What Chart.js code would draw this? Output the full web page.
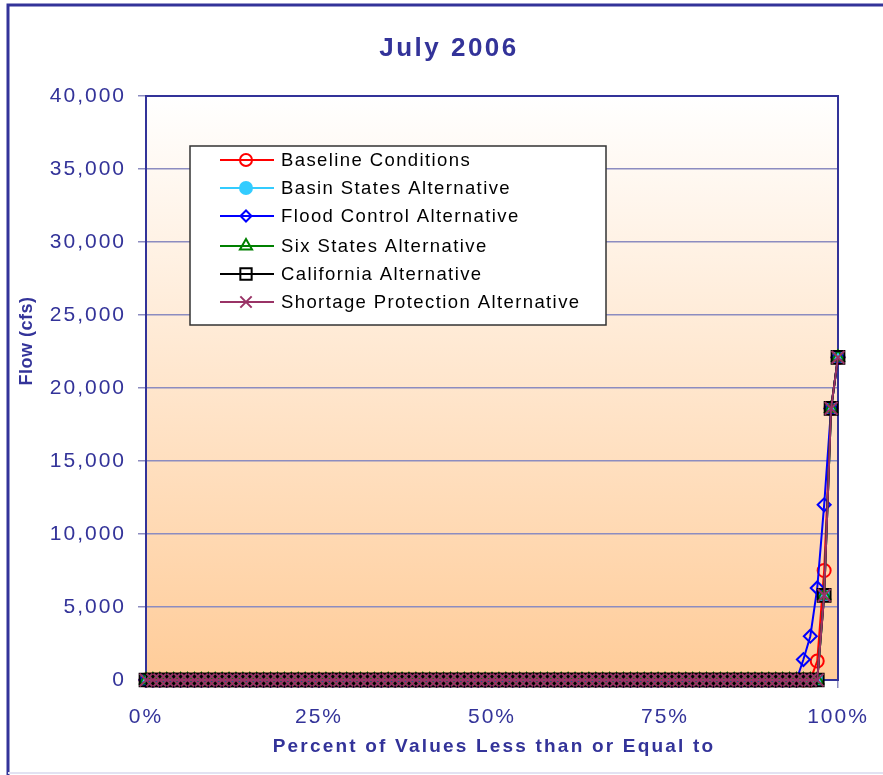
<!DOCTYPE html>
<html>
<head>
<meta charset="utf-8">
<title>July 2006</title>
<script src="https://cdn.jsdelivr.net/npm/chart.js@4.4.0/dist/chart.umd.min.js"></script>
<style>
    html, body { margin: 0; padding: 0; background: #ffffff; }
    #wrap { width: 883px; height: 775px; position: relative; }
</style>
</head>
<body>
<div id="wrap"><canvas id="flowChart" width="883" height="775"></canvas></div>
<script>
// Exceedance positions (percent of values less than or equal to)
const percentPoints = [
    0, 1, 2, 3, 4, 5, 6, 7, 8, 9,
    10, 11, 12, 13, 14, 15, 16, 17, 18, 19,
    20, 21, 22, 23, 24, 25, 26, 27, 28, 29,
    30, 31, 32, 33, 34, 35, 36, 37, 38, 39,
    40, 41, 42, 43, 44, 45, 46, 47, 48, 49,
    50, 51, 52, 53, 54, 55, 56, 57, 58, 59,
    60, 61, 62, 63, 64, 65, 66, 67, 68, 69,
    70, 71, 72, 73, 74, 75, 76, 77, 78, 79,
    80, 81, 82, 83, 84, 85, 86, 87, 88, 89,
    90, 91, 92, 93, 94, 95, 96, 97, 98, 99,
    100
];

// Flow (cfs) per series
const baselineFlow = [
    0, 0, 0, 0, 0, 0, 0, 0, 0, 0,
    0, 0, 0, 0, 0, 0, 0, 0, 0, 0,
    0, 0, 0, 0, 0, 0, 0, 0, 0, 0,
    0, 0, 0, 0, 0, 0, 0, 0, 0, 0,
    0, 0, 0, 0, 0, 0, 0, 0, 0, 0,
    0, 0, 0, 0, 0, 0, 0, 0, 0, 0,
    0, 0, 0, 0, 0, 0, 0, 0, 0, 0,
    0, 0, 0, 0, 0, 0, 0, 0, 0, 0,
    0, 0, 0, 0, 0, 0, 0, 0, 0, 0,
    0, 0, 0, 0, 0, 0, 0, 1300, 7500, 18600,
    22100
];
const basinStatesFlow = [
    0, 0, 0, 0, 0, 0, 0, 0, 0, 0,
    0, 0, 0, 0, 0, 0, 0, 0, 0, 0,
    0, 0, 0, 0, 0, 0, 0, 0, 0, 0,
    0, 0, 0, 0, 0, 0, 0, 0, 0, 0,
    0, 0, 0, 0, 0, 0, 0, 0, 0, 0,
    0, 0, 0, 0, 0, 0, 0, 0, 0, 0,
    0, 0, 0, 0, 0, 0, 0, 0, 0, 0,
    0, 0, 0, 0, 0, 0, 0, 0, 0, 0,
    0, 0, 0, 0, 0, 0, 0, 0, 0, 0,
    0, 0, 0, 0, 0, 0, 0, 0, 5800, 18600,
    22100
];
const floodControlFlow = [
    0, 0, 0, 0, 0, 0, 0, 0, 0, 0,
    0, 0, 0, 0, 0, 0, 0, 0, 0, 0,
    0, 0, 0, 0, 0, 0, 0, 0, 0, 0,
    0, 0, 0, 0, 0, 0, 0, 0, 0, 0,
    0, 0, 0, 0, 0, 0, 0, 0, 0, 0,
    0, 0, 0, 0, 0, 0, 0, 0, 0, 0,
    0, 0, 0, 0, 0, 0, 0, 0, 0, 0,
    0, 0, 0, 0, 0, 0, 0, 0, 0, 0,
    0, 0, 0, 0, 0, 0, 0, 0, 0, 0,
    0, 0, 0, 0, 0, 1400, 3000, 6300, 12000, 18600,
    22100
];
const sixStatesFlow = [
    0, 0, 0, 0, 0, 0, 0, 0, 0, 0,
    0, 0, 0, 0, 0, 0, 0, 0, 0, 0,
    0, 0, 0, 0, 0, 0, 0, 0, 0, 0,
    0, 0, 0, 0, 0, 0, 0, 0, 0, 0,
    0, 0, 0, 0, 0, 0, 0, 0, 0, 0,
    0, 0, 0, 0, 0, 0, 0, 0, 0, 0,
    0, 0, 0, 0, 0, 0, 0, 0, 0, 0,
    0, 0, 0, 0, 0, 0, 0, 0, 0, 0,
    0, 0, 0, 0, 0, 0, 0, 0, 0, 0,
    0, 0, 0, 0, 0, 0, 0, 0, 5800, 18600,
    22100
];
const californiaFlow = [
    0, 0, 0, 0, 0, 0, 0, 0, 0, 0,
    0, 0, 0, 0, 0, 0, 0, 0, 0, 0,
    0, 0, 0, 0, 0, 0, 0, 0, 0, 0,
    0, 0, 0, 0, 0, 0, 0, 0, 0, 0,
    0, 0, 0, 0, 0, 0, 0, 0, 0, 0,
    0, 0, 0, 0, 0, 0, 0, 0, 0, 0,
    0, 0, 0, 0, 0, 0, 0, 0, 0, 0,
    0, 0, 0, 0, 0, 0, 0, 0, 0, 0,
    0, 0, 0, 0, 0, 0, 0, 0, 0, 0,
    0, 0, 0, 0, 0, 0, 0, 0, 5800, 18600,
    22100
];
const shortageProtectionFlow = [
    0, 0, 0, 0, 0, 0, 0, 0, 0, 0,
    0, 0, 0, 0, 0, 0, 0, 0, 0, 0,
    0, 0, 0, 0, 0, 0, 0, 0, 0, 0,
    0, 0, 0, 0, 0, 0, 0, 0, 0, 0,
    0, 0, 0, 0, 0, 0, 0, 0, 0, 0,
    0, 0, 0, 0, 0, 0, 0, 0, 0, 0,
    0, 0, 0, 0, 0, 0, 0, 0, 0, 0,
    0, 0, 0, 0, 0, 0, 0, 0, 0, 0,
    0, 0, 0, 0, 0, 0, 0, 0, 0, 0,
    0, 0, 0, 0, 0, 0, 0, 0, 5800, 18600,
    22100
];

const seriesNames = [
    'Baseline Conditions',
    'Basin States Alternative',
    'Flood Control Alternative',
    'Six States Alternative',
    'California Alternative',
    'Shortage Protection Alternative'
];

const xTickValues = [0, 25, 50, 75, 100];
const yTickValues = [0, 5000, 10000, 15000, 20000, 25000, 30000, 35000, 40000];

const chartTitle = 'July 2006';
const xAxisTitle = 'Percent of Values Less than or Equal to';
const yAxisTitle = 'Flow (cfs)';

const NAVY = '#333399';
const GRID = '#8c8cc0';
const FONT = "'Liberation Sans', Arial, sans-serif";

// Excel-like spacing for tick labels
const spacingPlugin = {
    id: 'spacing',
    beforeDraw(chart) {
        chart.ctx.letterSpacing = '2px';
    }
};

// Plot background gradient: white at top, peach at bottom
const plotBackground = {
    id: 'plotBackground',
    beforeDraw(chart) {
        const { ctx, chartArea: a } = chart;
        ctx.save();
        const g = ctx.createLinearGradient(0, a.top, 0, a.bottom);
        g.addColorStop(0, '#ffffff');
        g.addColorStop(1, '#ffcc99');
        ctx.fillStyle = g;
        ctx.fillRect(a.left, a.top, a.right - a.left, a.bottom - a.top);
        ctx.restore();
    },
    beforeDatasetsDraw(chart) {
        const { ctx, chartArea: a } = chart;
        ctx.save();
        ctx.strokeStyle = NAVY;
        ctx.lineWidth = 2;
        ctx.strokeRect(a.left, a.top, a.right - a.left, a.bottom - a.top);
        ctx.restore();
    }
};

// Titles, outer frame and the boxed legend
const decorations = {
    id: 'decorations',
    afterDraw(chart) {
        const ctx = chart.ctx;
        ctx.save();

        // outer frame
        ctx.strokeStyle = NAVY;
        ctx.lineWidth = 3;
        ctx.beginPath();
        ctx.moveTo(8, 775);
        ctx.lineTo(8, 5);
        ctx.lineTo(883, 5);
        ctx.stroke();
        ctx.strokeStyle = '#e2e2f2';
        ctx.lineWidth = 2;
        ctx.beginPath();
        ctx.moveTo(8, 773);
        ctx.lineTo(883, 773);
        ctx.stroke();

        ctx.fillStyle = NAVY;
        ctx.textAlign = 'center';
        ctx.textBaseline = 'middle';

        ctx.font = 'bold 26px ' + FONT;
        ctx.letterSpacing = '2.5px';
        ctx.fillText(chartTitle, 449, 49);

        ctx.font = 'bold 19px ' + FONT;
        ctx.letterSpacing = '2.2px';
        ctx.fillText(xAxisTitle, 494, 747);

        ctx.save();
        ctx.translate(27, 341);
        ctx.rotate(-Math.PI / 2);
        ctx.font = 'bold 18px ' + FONT;
        ctx.letterSpacing = '0.5px';
        ctx.fillText(yAxisTitle, 0, 0);
        ctx.restore();

        // legend box
        const box = { left: 190, top: 146, right: 606, bottom: 325 };
        ctx.fillStyle = '#ffffff';
        ctx.fillRect(box.left, box.top, box.right - box.left, box.bottom - box.top);
        ctx.strokeStyle = '#333333';
        ctx.lineWidth = 1.5;
        ctx.strokeRect(box.left, box.top, box.right - box.left, box.bottom - box.top);

        const rows = [160, 188, 216, 246, 274, 302];
        ctx.font = '18.5px ' + FONT;
        ctx.letterSpacing = '1.4px';
        ctx.textAlign = 'left';
        chart.data.datasets.forEach((ds, i) => {
            const y = rows[i];
            ctx.strokeStyle = ds.borderColor;
            ctx.lineWidth = 2;
            ctx.beginPath();
            ctx.moveTo(220, y);
            ctx.lineTo(274, y);
            ctx.stroke();

            ctx.fillStyle = ds.pointBackgroundColor;
            ctx.strokeStyle = ds.pointBorderColor;
            ctx.lineWidth = ds.pointBorderWidth;
            Chart.helpers.drawPoint(ctx, {
                pointStyle: ds.pointStyle,
                radius: ds.legendRadius,
                borderWidth: ds.pointBorderWidth,
                rotation: 0
            }, 246, y);

            ctx.fillStyle = '#000000';
            ctx.fillText(ds.label, 281, y + 1);
        });

        ctx.restore();
    }
};

function makeSeries(index, values, color, fill, style, radius, legendRadius, order) {
    return {
        label: seriesNames[index],
        data: percentPoints.map((p, i) => ({ x: p, y: values[i] })),
        borderColor: color,
        backgroundColor: color,
        borderWidth: 2,
        pointStyle: style,
        pointRadius: radius,
        pointHoverRadius: radius,
        legendRadius: legendRadius,
        pointBorderColor: color,
        pointBackgroundColor: fill,
        pointBorderWidth: 2,
        tension: 0,
        clip: false,
        order: order
    };
}

const datasets = [
    makeSeries(0, baselineFlow, '#ff0000', 'rgba(0,0,0,0)', 'circle', 6.5, 6, 5),
    makeSeries(1, basinStatesFlow, '#33ccff', '#33ccff', 'circle', 6, 6, 4),
    makeSeries(2, floodControlFlow, '#0000ff', 'rgba(0,0,0,0)', 'rectRot', 6.5, 5.5, 3),
    makeSeries(3, sixStatesFlow, '#008000', 'rgba(0,0,0,0)', 'triangle', 7, 7, 2),
    makeSeries(4, californiaFlow, '#000000', 'rgba(0,0,0,0)', 'rect', 9, 8, 1),
    makeSeries(5, shortageProtectionFlow, '#993366', 'rgba(0,0,0,0)', 'crossRot', 9, 8, 0)
];

const ctx = document.getElementById('flowChart').getContext('2d');
new Chart(ctx, {
    type: 'line',
    data: { datasets: datasets },
    options: {
        responsive: false,
        animation: false,
        events: [],
        layout: { padding: { left: 0, top: 96, right: 45, bottom: 0 } },
        plugins: {
            legend: { display: false },
            title: { display: false },
            tooltip: { enabled: false }
        },
        scales: {
            x: {
                type: 'linear',
                min: 0,
                max: 100,
                afterBuildTicks: (scale) => {
                    scale.ticks = xTickValues.map(v => ({ value: v }));
                },
                afterFit: (scale) => { scale.height = 95; },
                grid: {
                    drawOnChartArea: false,
                    drawTicks: true,
                    tickLength: 8,
                    color: GRID,
                    lineWidth: 1.5
                },
                border: { display: false },
                ticks: {
                    color: NAVY,
                    font: { family: FONT, size: 21 },
                    padding: 17,
                    maxRotation: 0,
                    callback: (v) => v + '%'
                }
            },
            y: {
                type: 'linear',
                min: 0,
                max: 40000,
                afterBuildTicks: (scale) => {
                    scale.ticks = yTickValues.map(v => ({ value: v }));
                },
                afterFit: (scale) => { scale.width = 146; },
                grid: {
                    color: GRID,
                    lineWidth: 1.5,
                    tickLength: 8
                },
                border: { display: false },
                ticks: {
                    color: NAVY,
                    font: { family: FONT, size: 21 },
                    padding: 12,
                    callback: (v) => v.toLocaleString('en-US')
                }
            }
        }
    },
    plugins: [spacingPlugin, plotBackground, decorations]
});
</script>
</body>
</html>
